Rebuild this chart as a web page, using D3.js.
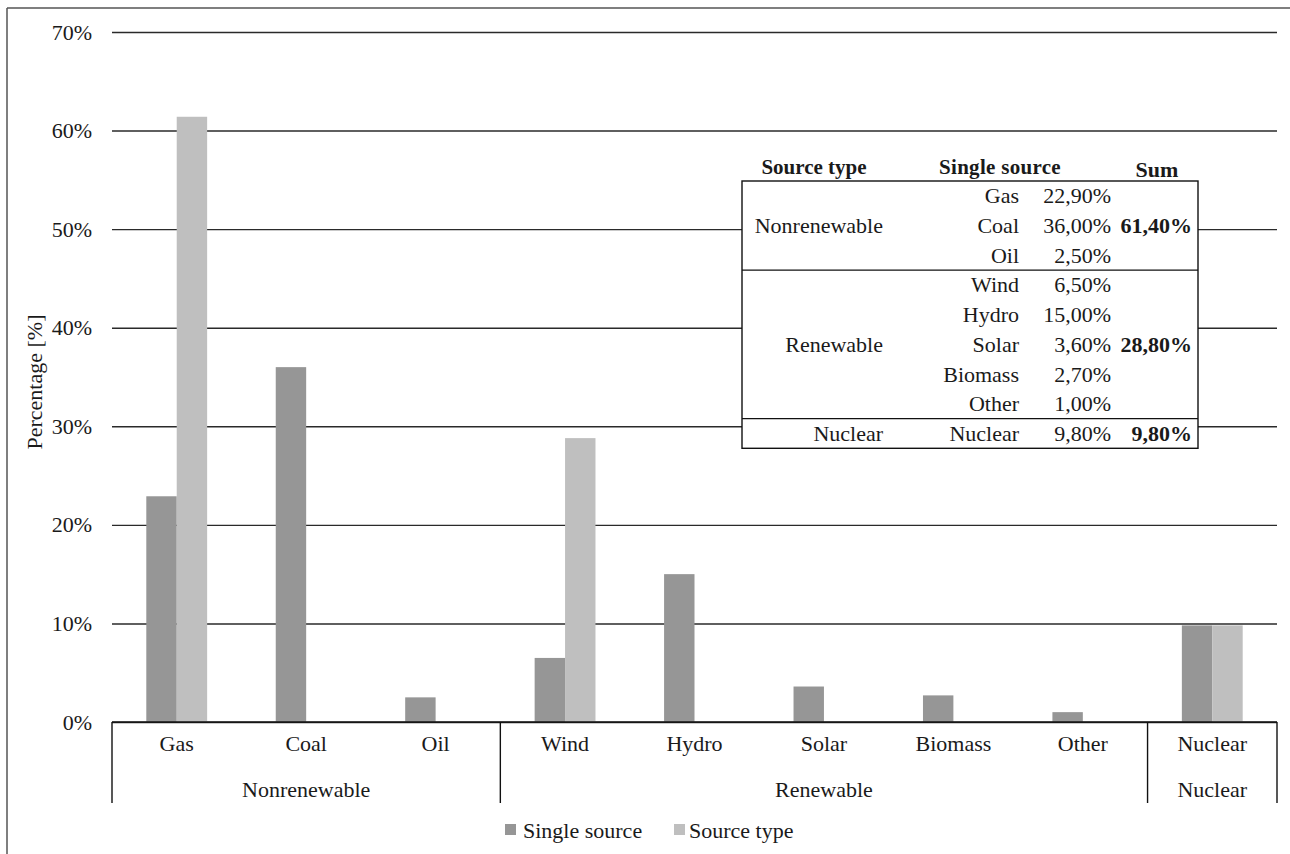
<!DOCTYPE html>
<html>
<head>
<meta charset="utf-8">
<script src="https://cdn.jsdelivr.net/npm/d3@7"></script>
<style>
  html, body { margin: 0; padding: 0; background: #fff; }
  svg { display: block; }
</style>
</head>
<body>
<svg id="chart" width="1290" height="854" font-family="Liberation Serif"></svg>
<script>
// ---- data ----
const categories = ["Gas", "Coal", "Oil", "Wind", "Hydro", "Solar", "Biomass", "Other", "Nuclear"];
const groups = ["Nonrenewable", "Nonrenewable", "Nonrenewable", "Renewable", "Renewable", "Renewable", "Renewable", "Renewable", "Nuclear"];
const singleSource = [22.9, 36.0, 2.5, 6.5, 15.0, 3.6, 2.7, 1.0, 9.8];
const sourceType = [61.4, null, null, 28.8, null, null, null, null, 9.8];
const yTicks = [0, 10, 20, 30, 40, 50, 60, 70];
const seriesNames = ["Single source", "Source type"];
const tableHeaders = ["Source type", "Single source", "Sum"];
const yTitle = "Percentage [%]";

// ---- layout ----
const FONT = "Liberation Serif";
const TXT = "#1a1a1a";
const svg = d3.select("#chart");
const plotLeft = 112, plotRight = 1277, plotTop = 32, plotBottom = 722;
const colors = ["#969696", "#bfbfbf"];
const fontSize = 22;

function label(parent, xPos, yPos, str, opts = {}) {
  return parent.append("text")
    .attr("x", xPos).attr("y", yPos)
    .attr("font-family", FONT).attr("fill", TXT)
    .attr("font-size", opts.size || fontSize)
    .attr("font-weight", opts.bold ? "bold" : "normal")
    .attr("text-anchor", opts.anchor || "start")
    .attr("dominant-baseline", "central")
    .text(str);
}

// frame (top + left)
svg.append("line").attr("x1", 7).attr("y1", 8).attr("x2", 1290).attr("y2", 8)
  .attr("stroke", "#555").attr("stroke-width", 1.5);
svg.append("line").attr("x1", 7).attr("y1", 8).attr("x2", 7).attr("y2", 854)
  .attr("stroke", "#555").attr("stroke-width", 1.5);

const x = d3.scaleBand().domain(categories).range([plotLeft, plotRight]).paddingInner(0).paddingOuter(0);
const y = d3.scaleLinear().domain([0, 70]).range([plotBottom, plotTop]);

// gridlines + y labels
const yAxis = d3.axisLeft(y).tickValues(yTicks).tickSize(-(plotRight - plotLeft)).tickPadding(20)
  .tickFormat(d => d + "%");
const gy = svg.append("g").attr("transform", `translate(${plotLeft},0)`).call(yAxis)
  .attr("font-family", FONT).attr("font-size", fontSize);
gy.select(".domain").remove();
gy.selectAll(".tick line").attr("stroke", "#2a2a2a").attr("stroke-width", 1.4);
gy.selectAll(".tick text").attr("font-family", FONT).attr("font-size", fontSize).attr("fill", TXT);

// y title
label(svg, 0, 0, yTitle, { anchor: "middle" })
  .attr("transform", `translate(34,382) rotate(-90)`);

// bars
const bw = x.bandwidth() * 0.235;
const barG = svg.append("g");
categories.forEach((c, i) => {
  const cx = x(c) + x.bandwidth() / 2;
  if (singleSource[i] != null) {
    barG.append("rect").attr("x", cx - bw).attr("y", y(singleSource[i]))
      .attr("width", bw).attr("height", y(0) - y(singleSource[i])).attr("fill", colors[0]);
  }
  if (sourceType[i] != null) {
    barG.append("rect").attr("x", cx).attr("y", y(sourceType[i]))
      .attr("width", bw).attr("height", y(0) - y(sourceType[i])).attr("fill", colors[1]);
  }
});

// x axis line
svg.append("line").attr("x1", plotLeft).attr("x2", plotRight).attr("y1", plotBottom).attr("y2", plotBottom)
  .attr("stroke", "#111").attr("stroke-width", 1.6);

// category labels
categories.forEach(c => {
  label(svg, x(c) + x.bandwidth() / 2, 743, c, { anchor: "middle" });
});

// group runs
const runs = [];
groups.forEach((g, i) => {
  if (runs.length && runs[runs.length - 1].name === g) runs[runs.length - 1].end = i;
  else runs.push({ name: g, start: i, end: i });
});
const sepX = [plotLeft];
runs.forEach(r => {
  const x0 = x(categories[r.start]);
  const x1 = x(categories[r.end]) + x.bandwidth();
  sepX.push(x1);
  label(svg, (x0 + x1) / 2, 789, r.name, { anchor: "middle" });
});
sepX.forEach(sx => {
  svg.append("line").attr("x1", sx).attr("x2", sx).attr("y1", plotBottom).attr("y2", 803)
    .attr("stroke", "#111").attr("stroke-width", 1.4);
});

// legend
const legendItems = [
  { name: seriesNames[0], color: colors[0], sx: 505, tx: 523 },
  { name: seriesNames[1], color: colors[1], sx: 674, tx: 689 }
];
legendItems.forEach(it => {
  svg.append("rect").attr("x", it.sx).attr("y", 824).attr("width", 11).attr("height", 11).attr("fill", it.color);
  label(svg, it.tx, 830, it.name);
});

// ---- table ----
const fmt = v => d3.format(".2f")(v).replace(".", ",") + "%";
const tL = 742, tR = 1198, tTop = 181, rowH = 29.7;
const tG = svg.append("g");
tG.append("rect").attr("x", tL).attr("y", tTop).attr("width", tR - tL)
  .attr("height", rowH * categories.length).attr("fill", "#fff")
  .attr("stroke", "#111").attr("stroke-width", 1.4);

// headers
const headerX = [814, 1000, 1157];
tableHeaders.forEach((h, i) => {
  label(tG, headerX[i], i === 2 ? 169 : 167, h, { anchor: "middle", bold: true, size: i === 2 ? 22 : 21 })
    .attr("letter-spacing", i === 1 ? 0.3 : 0);
});

const rowY = i => tTop + rowH * (i + 0.5);
categories.forEach((c, i) => {
  label(tG, 1019, rowY(i), c, { anchor: "end" });
  label(tG, 1111, rowY(i), fmt(singleSource[i]), { anchor: "end" });
});
runs.forEach((r, k) => {
  const mid = Math.floor((r.start + r.end) / 2);
  label(tG, 883, rowY(mid), r.name, { anchor: "end" });
  const sumIdx = sourceType.findIndex((v, j) => j >= r.start && j <= r.end && v != null);
  label(tG, 1192, rowY(mid), fmt(sourceType[sumIdx]), { anchor: "end", bold: true });
  if (k < runs.length - 1) {
    const ly = tTop + rowH * (r.end + 1);
    tG.append("line").attr("x1", tL).attr("x2", tR).attr("y1", ly).attr("y2", ly)
      .attr("stroke", "#111").attr("stroke-width", 1.2);
  }
});
</script>
</body>
</html>
